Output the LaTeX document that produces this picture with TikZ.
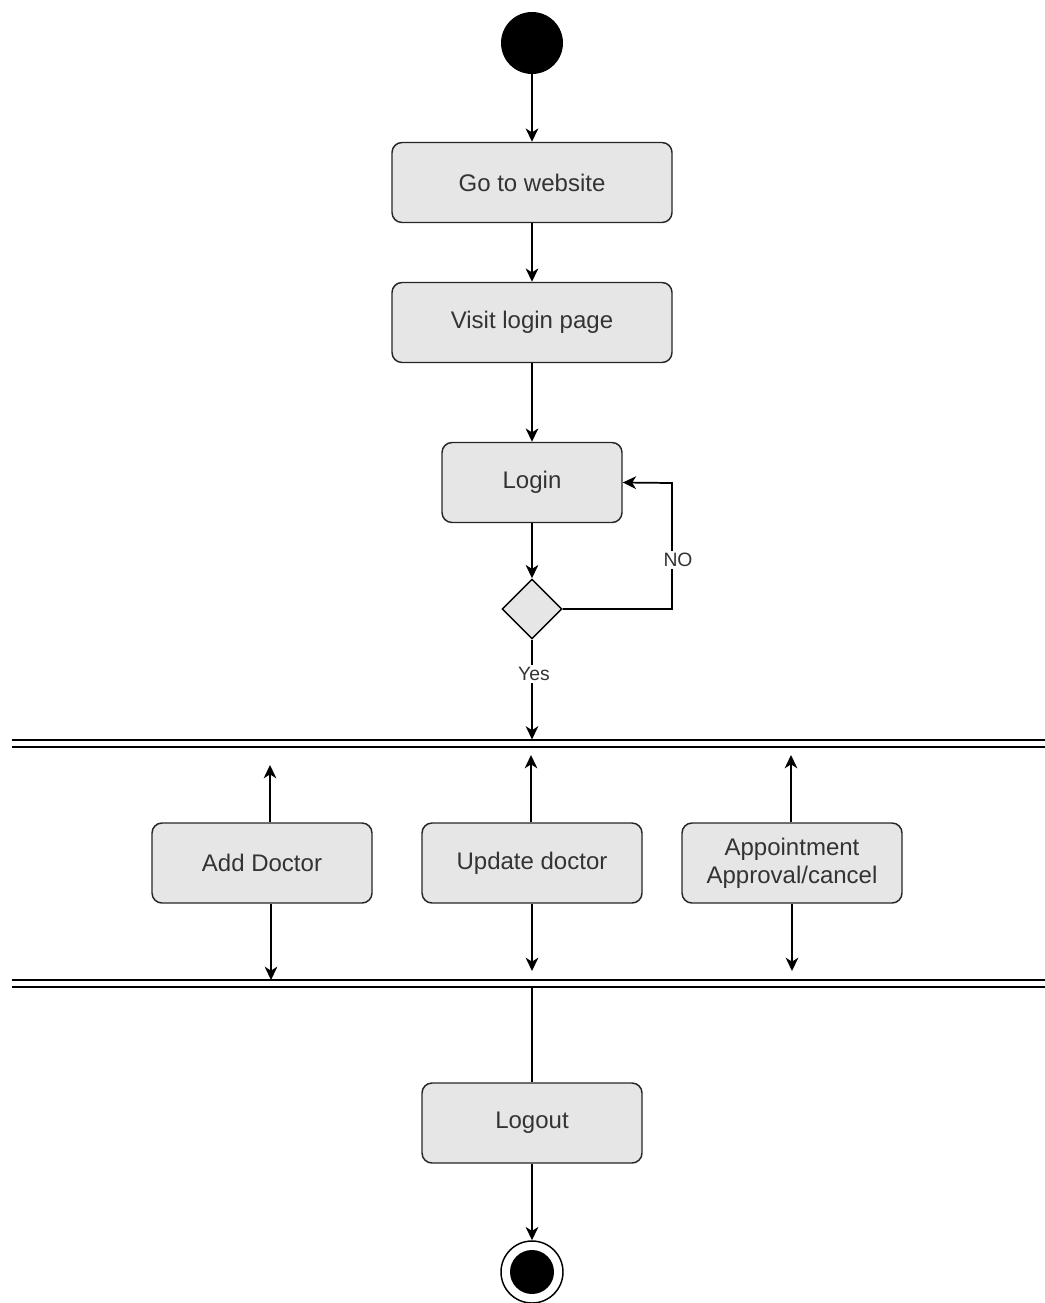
\documentclass[tikz,border=0pt]{standalone}
\usepackage{fontspec}
\setmainfont{Liberation Sans}
\usetikzlibrary{arrows.meta,shapes.geometric}
\definecolor{boxfill}{HTML}{E6E6E6}
\definecolor{txt}{HTML}{333333}
\tikzset{
  act/.style={draw=black!85, line width=1.1pt, fill=boxfill, rounded corners=7.5pt,
    minimum width=210pt, minimum height=60pt, inner sep=0pt, align=center,
    text=txt, font=\fontsize{18}{21}\selectfont},
  flow/.style={draw=black, line width=1.3pt, -{Stealth[length=10pt,width=9.5pt,inset=3pt]}},
  plain/.style={draw=black, line width=1.3pt},
  barline/.style={draw=black, line width=1.5pt},
  lbl/.style={text=txt, font=\fontsize{14.5}{17}\selectfont, fill=white, inner sep=1.5pt},
}
\begin{document}
\begin{tikzpicture}[x=0.75pt,y=-0.75pt]
\useasboundingbox (0,0) rectangle (1045,1303);
% start
\node[circle, fill=black, minimum size=46.5pt, inner sep=0pt] (start) at (532,43) {};
% actions
\node[act] (web) at (532,182.5) {Go to website};
\node[act] (visit) at (532,322.5) {Visit login page};
\node[act, minimum width=135pt] (login) at (532,482.5) {Login};
\node[diamond, draw=black, line width=1.1pt, fill=boxfill, minimum width=45pt, minimum height=45pt, inner sep=0pt] (dec) at (532,609) {};
% bars
\coordinate (b1l) at (12,739.5); \coordinate (b1r) at (1045,739.5);
\coordinate (b2l) at (12,747); \coordinate (b2r) at (1045,747);
\coordinate (b3l) at (12,979.5); \coordinate (b3r) at (1045,979.5);
\coordinate (b4l) at (12,987); \coordinate (b4r) at (1045,987);
\draw[barline] (b1l) -- (b1r);
\draw[barline] (b2l) -- (b2r);
\draw[barline] (b3l) -- (b3r);
\draw[barline] (b4l) -- (b4r);
% parallel actions
\node[act, minimum width=165pt] (add) at (262,863) {Add Doctor};
\node[act, minimum width=165pt] (upd) at (532,863) {Update doctor};
\node[act, minimum width=165pt] (appt) at (792,863) {Appointment\\Approval/cancel};
\node[act, minimum width=165pt] (logout) at (532,1123) {Logout};
% end
\node[circle, draw=black, line width=1.1pt, fill=white, minimum size=46.5pt, inner sep=0pt] (end) at (532,1272) {};
\node[circle, fill=black, minimum size=33pt, inner sep=0pt] (endin) at (end) {};
% connectors
\draw[flow] (start) -- (web);
\draw[flow] (web) -- (visit);
\draw[flow] (visit) -- (login);
\draw[flow] (login) -- (dec);
\draw[flow] (dec.east) -- (672,609) -- (672,483) -- (login.east);
\node[lbl] (no) at (678,560) {NO};
\coordinate (yesend) at (532,739.5);
\draw[flow] (dec.south) -- (yesend);
\node[lbl] (yes) at (534,674) {Yes};
% up arrows
\coordinate (addup) at (270,765);
\coordinate (updup) at (531,755);
\coordinate (apptup) at (791,755);
\draw[flow] (add.north -| addup) -- (addup);
\draw[flow] (upd.north -| updup) -- (updup);
\draw[flow] (appt.north -| apptup) -- (apptup);
% down arrows
\coordinate (adddn) at (271,980);
\coordinate (upddn) at (532,971);
\coordinate (apptdn) at (792,971);
\draw[flow] (add.south -| adddn) -- (adddn);
\draw[flow] (upd.south) -- (upddn);
\draw[flow] (appt.south) -- (apptdn);
% join to logout
\coordinate (joinout) at (532,987);
\draw[plain] (joinout) -- (logout.north);
\draw[flow] (logout) -- (end);
\end{tikzpicture}
\end{document}
